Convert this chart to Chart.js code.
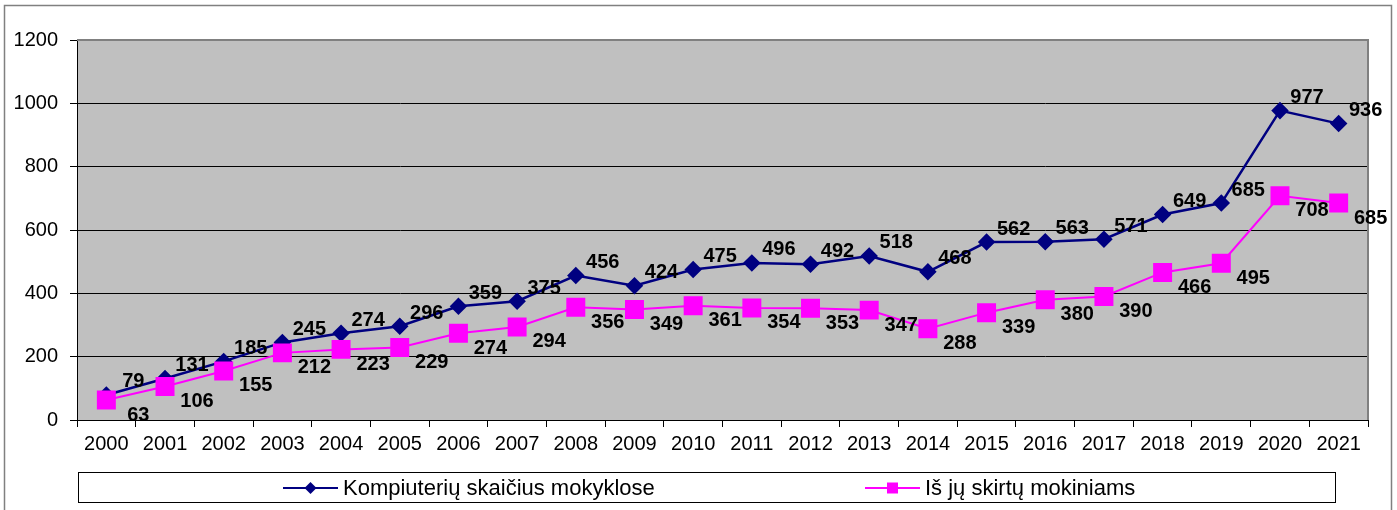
<!DOCTYPE html>
<html>
<head>
<meta charset="utf-8">
<script src="https://cdn.jsdelivr.net/npm/chart.js@4.4.0/dist/chart.umd.min.js"></script>
<style>
  html, body { margin: 0; padding: 0; background: #fff; }
  #wrap { width: 1397px; height: 510px; }
</style>
</head>
<body>
<div id="wrap"><canvas id="chart" width="1397" height="510"></canvas></div>
<script>
// Chart data
const years = ['2000', '2001', '2002', '2003', '2004', '2005', '2006', '2007', '2008', '2009', '2010',
               '2011', '2012', '2013', '2014', '2015', '2016', '2017', '2018', '2019', '2020', '2021'];
const computersInSchools = [79, 131, 185, 245, 274, 296, 359, 375, 456, 424, 475,
                            496, 492, 518, 468, 562, 563, 571, 649, 685, 977, 936];
const forStudents = [63, 106, 155, 212, 223, 229, 274, 294, 356, 349, 361,
                     354, 353, 347, 288, 339, 380, 390, 466, 495, 708, 685];
const yTicks = [0, 200, 400, 600, 800, 1000, 1200];

const FONT = "'Liberation Sans', Arial, sans-serif";

// Background, outer frame and grey plot area
const backgroundPlugin = {
    id: 'background',
    beforeDraw(chart) {
        const ctx = chart.ctx;
        const area = chart.chartArea;
        ctx.save();
        ctx.fillStyle = '#fff';
        ctx.fillRect(0, 0, chart.width, chart.height);
        ctx.fillStyle = '#c0c0c0';
        ctx.fillRect(area.left, area.top, area.right - area.left, area.bottom - area.top);
        // outer frame
        ctx.strokeStyle = '#808080';
        ctx.lineWidth = 1.5;
        ctx.beginPath();
        ctx.moveTo(4.5, chart.height);
        ctx.lineTo(4.5, 5.5);
        ctx.lineTo(1391.5, 5.5);
        ctx.lineTo(1391.5, chart.height);
        ctx.stroke();
        ctx.restore();
    },
    beforeDatasetsDraw(chart) {
        const ctx = chart.ctx;
        const area = chart.chartArea;
        ctx.save();
        ctx.strokeStyle = '#808080';
        ctx.lineWidth = 2;
        ctx.beginPath();
        ctx.moveTo(area.left, area.top);
        ctx.lineTo(area.right, area.top);
        ctx.lineTo(area.right, area.bottom);
        ctx.stroke();
        ctx.restore();
    }
};

// Value labels next to each point
const valueLabelsPlugin = {
    id: 'valueLabels',
    afterDatasetsDraw(chart) {
        const ctx = chart.ctx;
        ctx.save();
        ctx.font = 'bold 20px ' + FONT;
        ctx.fillStyle = '#000';
        ctx.textAlign = 'center';
        ctx.textBaseline = 'middle';
        chart.data.datasets.forEach((ds, i) => {
            const meta = chart.getDatasetMeta(i);
            const off = ds.labelOffset;
            meta.data.forEach((pt, j) => {
                ctx.fillText(String(ds.data[j]), pt.x + off.x, pt.y + off.y);
            });
        });
        ctx.restore();
    }
};

// Legend box at the bottom, items spread like the original
const legendBoxPlugin = {
    id: 'legendBox',
    afterDraw(chart) {
        const ctx = chart.ctx;
        ctx.save();
        ctx.strokeStyle = '#000';
        ctx.lineWidth = 1;
        ctx.strokeRect(78.5, 472.5, 1257, 30);
        const cy = 488;
        const items = [
            { ds: chart.data.datasets[0], x: 283 },
            { ds: chart.data.datasets[1], x: 865 }
        ];
        items.forEach(item => {
            const ds = item.ds;
            ctx.strokeStyle = ds.borderColor;
            ctx.lineWidth = 2;
            ctx.beginPath();
            ctx.moveTo(item.x, cy);
            ctx.lineTo(item.x + 55, cy);
            ctx.stroke();
            ctx.fillStyle = ds.pointBackgroundColor;
            ctx.beginPath();
            if (ds.pointStyle === 'rectRot') {
                const c = item.x + 27.5;
                ctx.moveTo(c, cy - 6);
                ctx.lineTo(c + 6, cy);
                ctx.lineTo(c, cy + 6);
                ctx.lineTo(c - 6, cy);
                ctx.closePath();
            } else {
                ctx.rect(item.x + 27.5 - 5.5, cy - 5.5, 11, 11);
            }
            ctx.fill();
            ctx.fillStyle = '#000';
            ctx.font = '22px ' + FONT;
            ctx.textAlign = 'left';
            ctx.textBaseline = 'middle';
            ctx.fillText(ds.label, item.x + 60, cy + 1);
        });
        ctx.restore();
    }
};

const ctx = document.getElementById('chart').getContext('2d');
new Chart(ctx, {
    type: 'line',
    data: {
        labels: years,
        datasets: [
            {
                label: 'Kompiuterių skaičius mokyklose',
                data: computersInSchools,
                borderColor: '#000080',
                backgroundColor: '#000080',
                pointBackgroundColor: '#000080',
                pointBorderColor: '#000080',
                pointStyle: 'rectRot',
                pointRadius: 7,
                borderWidth: 2.5,
                tension: 0,
                order: 1,
                labelOffset: { x: 27, y: -13 }
            },
            {
                label: 'Iš jų skirtų mokiniams',
                data: forStudents,
                borderColor: '#ff00ff',
                backgroundColor: '#ff00ff',
                pointBackgroundColor: '#ff00ff',
                pointBorderColor: '#ff00ff',
                pointStyle: 'rect',
                pointRadius: 12,
                borderWidth: 2,
                tension: 0,
                order: 0,
                labelOffset: { x: 32, y: 15 }
            }
        ]
    },
    options: {
        responsive: false,
        animation: false,
        events: [],
        layout: {
            padding: { top: 40, right: 29, bottom: 50, left: 0 }
        },
        plugins: {
            legend: { display: false },
            tooltip: { enabled: false }
        },
        scales: {
            x: {
                offset: true,
                grid: {
                    offset: true,
                    drawOnChartArea: false,
                    drawTicks: true,
                    tickLength: 7,
                    color: '#000'
                },
                border: { color: '#000', width: 1 },
                ticks: {
                    color: '#000',
                    font: { family: FONT, size: 20 },
                    padding: 5,
                    maxRotation: 0,
                    autoSkip: false
                },
                afterFit: scale => { scale.height = 40; }
            },
            y: {
                min: 0,
                max: 1200,
                afterBuildTicks: scale => {
                    scale.ticks = yTicks.map(v => ({ value: v }));
                },
                grid: {
                    color: '#000',
                    tickLength: 7,
                    lineWidth: 1
                },
                border: { color: '#000', width: 1 },
                ticks: {
                    color: '#000',
                    font: { family: FONT, size: 20 },
                    padding: 12,
                    callback: value => String(value)
                },
                afterFit: scale => { scale.width = 77; }
            }
        }
    },
    plugins: [backgroundPlugin, valueLabelsPlugin, legendBoxPlugin]
});
</script>
</body>
</html>
